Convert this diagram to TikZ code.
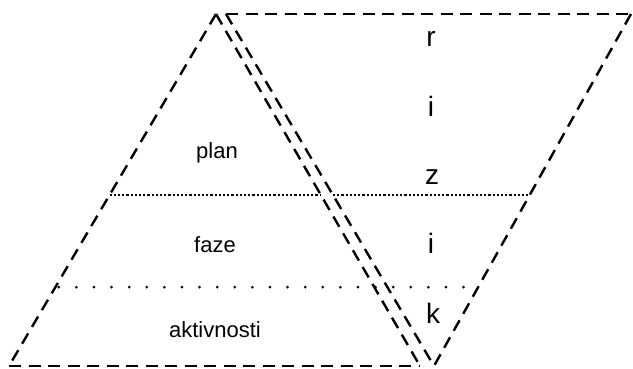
\documentclass[tikz,border=0pt]{standalone}
\usepackage{fontspec}
\setmainfont{Liberation Sans}
\usetikzlibrary{calc}
\begin{document}
\begin{tikzpicture}[x=1pt,y=-1pt,
  edge/.style={line width=2.4pt, dash pattern=on 12pt off 7.5pt},
  finedots/.style={line width=2.4pt, dash pattern=on 2.2pt off 2pt},
  sparsedots/.style={line width=3pt, line cap=round, dash pattern=on 0pt off 17.6pt, dash phase=14.2pt},
  lbl/.style={anchor=base, inner sep=0pt, font=\fontsize{22}{26}\selectfont},
  letter/.style={anchor=base, inner sep=0pt, font=\fontsize{28}{32}\selectfont}]
\useasboundingbox (0,0) rectangle (633,369);
% triangle
\coordinate (A) at (216,14);
\coordinate (BL) at (9,366);
\coordinate (BR) at (420,366);
% parallelogram
\coordinate (P1) at (226,14);
\coordinate (P2) at (631,14);
\coordinate (P3) at (434,366);
\draw[edge] (A) -- (BL);
\draw[edge] (BL) -- (BR);
\draw[edge] (A) -- (BR);
\draw[edge] (P1) -- (P2);
\draw[edge] (P2) -- (P3);
\draw[edge] (P1) -- (P3);
% dotted line 1
\coordinate (L1a) at ($(A)!0.514!(BL)$);
\coordinate (L1b) at ($(A)!0.514!(BR)$);
\coordinate (L1c) at ($(P1)!0.514!(P3)$);
\coordinate (L1d) at ($(P2)!0.514!(P3)$);
\draw[finedots] (L1a) -- (L1b);
\draw[finedots] (L1c) -- (L1d);
% dotted line 2
\coordinate (L2a) at ($(A)!0.776!(BL)$);
\coordinate (L2d) at ($(P2)!0.776!(P3)$);
\draw[sparsedots] (L2a) -- (L2d);
% labels
\node[lbl] (plan) at (217,158) {plan};
\node[lbl] (faze) at (215,252) {faze};
\node[lbl] (akt) at (215,337) {aktivnosti};
\node[letter] (r) at (431,47) {r};
\node[letter] (i1) at (431,117) {i};
\node[letter] (z) at (432,185) {z};
\node[letter] (i2) at (431,253) {i};
\node[letter] (k) at (433,323) {k};
\end{tikzpicture}
\end{document}
